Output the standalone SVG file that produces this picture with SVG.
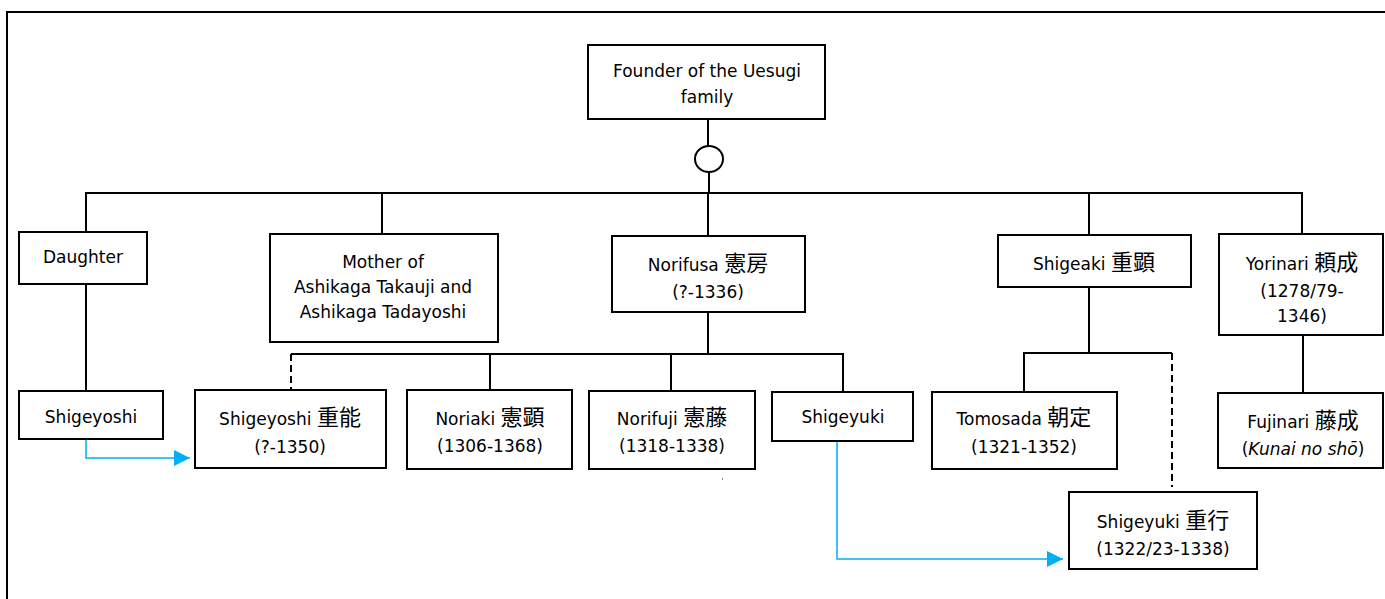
<svg xmlns="http://www.w3.org/2000/svg" width="1385" height="599" viewBox="0 0 1385 599">
<style>
  .box { fill: #ffffff; stroke: #000000; stroke-width: 2; }
  .ln { fill: none; stroke: #000000; stroke-width: 2; }
  .dash { fill: none; stroke: #000000; stroke-width: 2; stroke-dasharray: 7 4; }
  .blue { fill: none; stroke: #00B0F0; stroke-width: 1.5; }
  text { font-family: "DejaVu Sans", "Noto Sans CJK JP", sans-serif; font-size: 17px; fill: #000000; text-anchor: middle; }
  .cjk { font-family: "Noto Sans CJK JP", "Noto Sans CJK SC", sans-serif; font-size: 22px; }
  .it { font-style: italic; }
</style>
<defs>
  <marker id="arrow" viewBox="0 0 16 16" markerWidth="16" markerHeight="16" markerUnits="userSpaceOnUse" refX="16" refY="8" orient="auto">
    <path d="M0,0 L16,8 L0,16 z" fill="#00B0F0"/>
  </marker>
</defs>
<rect width="1385" height="599" fill="#ffffff"/>
<path class="ln" d="M7,599 V12 H1385"/>

<g id="connectors">
  <path class="ln" d="M708,119 V146"/>
  <ellipse class="ln" cx="709" cy="159" rx="14" ry="13"/>
  <path class="ln" d="M709,172 V193"/>
  <path class="ln" d="M86,232 V193 H1302 V234"/>
  <path class="ln" d="M382,193 V234"/>
  <path class="ln" d="M708,193 V236"/>
  <path class="ln" d="M1089,193 V235"/>
  <path class="ln" d="M86,284 V391"/>
  <path class="ln" d="M708,312 V354"/>
  <path class="ln" d="M291,354 H843 V392"/>
  <path class="dash" d="M291,354 V390"/>
  <path class="ln" d="M490,354 V390"/>
  <path class="ln" d="M671,354 V391"/>
  <path class="ln" d="M1089,287 V353"/>
  <path class="ln" d="M1024,392 V353 H1172"/>
  <path class="dash" d="M1172,353 V487"/>
  <path class="ln" d="M1303,335 V393"/>
  <path class="blue" d="M86,439 V458 H190" marker-end="url(#arrow)"/>
  <path class="blue" d="M837,441 V559 H1063" marker-end="url(#arrow)"/>
  <rect x="722" y="478" width="1" height="2" fill="#888888"/>
</g>

<g id="founder">
  <rect class="box" x="588" y="45" width="237" height="74"/>
  <text x="707" y="77">Founder of the Uesugi</text>
  <text x="707" y="103">family</text>
</g>
<g id="daughter">
  <rect class="box" x="19" y="232" width="128" height="52"/>
  <text x="83" y="263">Daughter</text>
</g>
<g id="mother">
  <rect class="box" x="270" y="234" width="228" height="108"/>
  <text x="383" y="268">Mother of</text>
  <text x="383" y="293">Ashikaga Takauji and</text>
  <text x="383" y="318">Ashikaga Tadayoshi</text>
</g>
<g id="norifusa">
  <rect class="box" x="612" y="236" width="193" height="76"/>
  <text x="708" y="271">Norifusa <tspan class="cjk">憲房</tspan></text>
  <text x="708" y="298">(?-1336)</text>
</g>
<g id="shigeaki">
  <rect class="box" x="998" y="235" width="193" height="52"/>
  <text x="1094" y="270">Shigeaki <tspan class="cjk">重顕</tspan></text>
</g>
<g id="yorinari">
  <rect class="box" x="1219" y="234" width="164" height="101"/>
  <text x="1302" y="270">Yorinari <tspan class="cjk">頼成</tspan></text>
  <text x="1302" y="297">(1278/79-</text>
  <text x="1302" y="322">1346)</text>
</g>
<g id="shigeyoshi-daughter">
  <rect class="box" x="19" y="391" width="144" height="48"/>
  <text x="91" y="423">Shigeyoshi</text>
</g>
<g id="shigeyoshi">
  <rect class="box" x="195" y="390" width="191" height="78"/>
  <text x="290" y="425">Shigeyoshi <tspan class="cjk">重能</tspan></text>
  <text x="290" y="453">(?-1350)</text>
</g>
<g id="noriaki">
  <rect class="box" x="407" y="390" width="165" height="79"/>
  <text x="490" y="425">Noriaki <tspan class="cjk">憲顕</tspan></text>
  <text x="490" y="452">(1306-1368)</text>
</g>
<g id="norifuji">
  <rect class="box" x="589" y="391" width="166" height="78"/>
  <text x="672" y="425">Norifuji <tspan class="cjk">憲藤</tspan></text>
  <text x="672" y="452">(1318-1338)</text>
</g>
<g id="shigeyuki-norifusa">
  <rect class="box" x="772" y="392" width="141" height="49"/>
  <text x="843" y="423">Shigeyuki</text>
</g>
<g id="tomosada">
  <rect class="box" x="932" y="392" width="185" height="77"/>
  <text x="1024" y="425">Tomosada <tspan class="cjk">朝定</tspan></text>
  <text x="1024" y="453">(1321-1352)</text>
</g>
<g id="fujinari">
  <rect class="box" x="1218" y="393" width="165" height="75"/>
  <text x="1303" y="428">Fujinari <tspan class="cjk">藤成</tspan></text>
  <text x="1303" y="455">(<tspan class="it">Kunai no shō</tspan>)</text>
</g>
<g id="shigeyuki">
  <rect class="box" x="1069" y="492" width="188" height="77"/>
  <text x="1163" y="528">Shigeyuki <tspan class="cjk">重行</tspan></text>
  <text x="1163" y="555">(1322/23-1338)</text>
</g>
</svg>
